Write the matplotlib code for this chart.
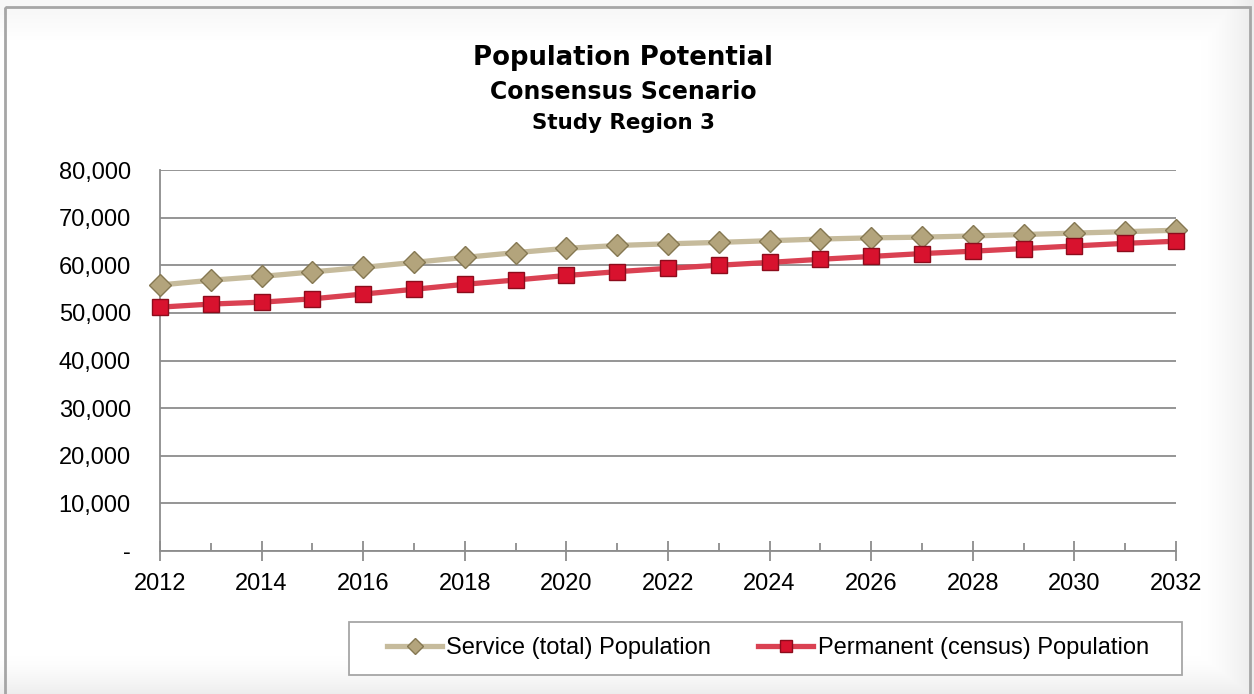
import matplotlib.pyplot as plt
from matplotlib.patches import Rectangle
from matplotlib.ticker import FuncFormatter, MultipleLocator
import numpy as np

years = list(range(2012, 2033))
service = [55850, 56850, 57650, 58600, 59550, 60600, 61650, 62650, 63550,
           64150, 64500, 64800, 65150, 65500, 65750, 65900, 66150, 66450,
           66750, 67050, 67350]
permanent = [51200, 51850, 52250, 52950, 53950, 54950, 56000, 56900, 57850,
             58650, 59350, 60000, 60600, 61250, 61850, 62450, 62950, 63500,
             64050, 64600, 65050]

title_lines = ['Population Potential', 'Consensus Scenario', 'Study Region 3']
series_names = ['Service (total) Population', 'Permanent (census) Population']

plt.rcParams['font.family'] = ['Liberation Sans', 'DejaVu Sans']

fig = plt.figure(figsize=(12.54, 6.94), dpi=100)
fig.patch.set_facecolor('white')

# background frame with a soft grey gradient toward the right and bottom
bg = fig.add_axes([0, 0, 1, 1], zorder=-10)
bg.set_xlim(0, 1254)
bg.set_ylim(694, 0)
bg.axis('off')
gx = np.clip((np.arange(1254) - 1200) / 50.0, 0, 1) ** 1.5
gy = np.clip((np.arange(694) - 655) / 39.0, 0, 1) ** 1.5
gt = np.clip((40 - np.arange(694)) / 33.0, 0, 1)
shade = np.maximum(np.maximum(gx[None, :], gy[:, None]) * 0.07, gt[:, None] * 0.03)
img = 1 - shade
bg.imshow(np.dstack([img, img, img]), extent=(0, 1254, 694, 0), aspect='auto')
bg.add_patch(Rectangle((5, 7), 1245, 690, fill=False, edgecolor='#a6a6a6', lw=2))
# legend frame
bg.add_patch(Rectangle((349, 622), 833, 53, facecolor='white', edgecolor='#a6a6a6', lw=1.3))

ax = fig.add_axes([160 / 1254, 1 - 551 / 694, 1016 / 1254, 381 / 694])
ax.plot(years, service, color='#c6bb9c', lw=3.8, marker='D', markersize=11,
        markerfacecolor='#b3a47c', markeredgecolor='#857852', markeredgewidth=1,
        label=series_names[0], zorder=3)
ax.plot(years, permanent, color='#da4152', lw=3.8, marker='s', markersize=12,
        markerfacecolor='#d8122e', markeredgecolor='#8c0c1c', markeredgewidth=1,
        label=series_names[1], zorder=4)

ax.set_xlim(2012, 2032)
ax.set_ylim(0, 80000)
ax.yaxis.set_major_locator(MultipleLocator(10000))
ax.yaxis.set_major_formatter(FuncFormatter(lambda v, p: '-' if v == 0 else f'{int(v):,}'))
ax.xaxis.set_major_locator(MultipleLocator(2))
ax.xaxis.set_minor_locator(MultipleLocator(1))
ax.grid(axis='y', color='#8c8c8c', lw=1.3)
ax.set_axisbelow(True)
for s in ['top', 'right']:
    ax.spines[s].set_visible(False)
for s in ['left', 'bottom']:
    ax.spines[s].set_color('#8c8c8c')
    ax.spines[s].set_linewidth(1.3)
ax.tick_params(axis='y', length=0, labelsize=17, pad=21)
ax.tick_params(axis='x', which='major', direction='inout', length=14, width=1.3,
               color='#8c8c8c', labelsize=17, pad=9)
ax.tick_params(axis='x', which='minor', direction='in', length=6, width=1.3,
               color='#8c8c8c')
for ln in ax.lines:
    ln.set_clip_on(False)

fig.text(0.497, 1 - 58 / 694, title_lines[0], ha='center', va='center',
         fontsize=18.7, fontweight='bold', family=['DejaVu Sans'])
fig.text(0.497, 1 - 92 / 694, title_lines[1], ha='center', va='center',
         fontsize=17, fontweight='bold', family=['DejaVu Sans'])
fig.text(0.497, 1 - 123 / 694, title_lines[2], ha='center', va='center',
         fontsize=15.4, fontweight='bold', family=['DejaVu Sans'])

leg = fig.legend(loc='center', bbox_to_anchor=(768 / 1254, 1 - 648 / 694), ncol=2,
                 fontsize=17, frameon=False,
                 handlelength=2.3, columnspacing=2.0, handletextpad=0.2)
for h in leg.legend_handles:
    h.set_markersize(8)

fig.savefig('out.png', dpi=100)
